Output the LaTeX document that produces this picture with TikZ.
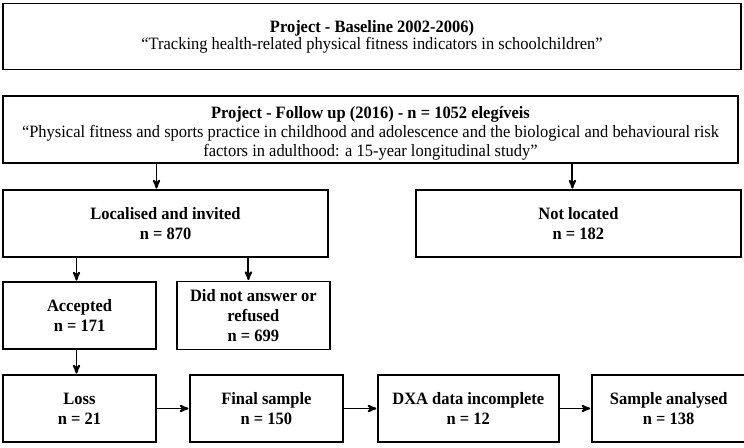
\documentclass[tikz,border=0pt]{standalone}
\usepackage{fontspec}
\setmainfont{Liberation Serif}[FakeStretch=0.95]
\usetikzlibrary{arrows,positioning}
\tikzset{
    %Define standard arrow tip
    >=stealth',
    %Define style for boxes
    flowbox/.style={
           rectangle,
           draw=black, line width=1.9bp,
           inner sep=2bp,
           minimum height=67bp,
           font=\fontsize{17.4}{20}\selectfont,
           align=center},
    % Define arrow style
    pil/.style={
           ->,
           line width=1.9bp,
           shorten >=0.5bp}
}
\begin{document}
\begin{tikzpicture}[x=1bp,y=-1bp,node distance=32bp]
\useasboundingbox (0,0) rectangle (744,448);
\node[flowbox, minimum width=738bp, minimum height=66bp, font=\fontsize{17.4}{17}\selectfont](base) at (372,36.5)
  {\textbf{Project - Baseline 2002-2006)}\\“Tracking health-related physical fitness indicators in schoolchildren”};
\node[flowbox, minimum width=735bp, font=\fontsize{17.4}{19}\selectfont](follow) at (370.5,129.5)
  {\rule{0pt}{20bp}\textbf{Project - Follow up (2016) - n = 1052 elegíveis}\\“Physical fitness and sports practice in childhood and adolescence and the biological and behavioural risk\\factors in adulthood: a 15-year longitudinal study”};
\node[flowbox, minimum width=325bp](loc) at (165.5,223.5) {\textbf{Localised and invited}\\\textbf{n = 870}};
\node[flowbox, minimum width=325bp, right=86bp of loc](notloc) {\textbf{Not located}\\\textbf{n = 182}};
\node[flowbox, minimum width=153bp](acc) at (79.5,315.5) {\textbf{Accepted}\\\textbf{n = 171}};
\node[flowbox, minimum width=153bp, minimum height=68bp, right=19bp of acc](refused) {\textbf{Did not answer or}\\\textbf{refused}\\\textbf{n = 699}};
\node[flowbox, minimum width=153bp](loss) at (79.5,408.5) {\textbf{Loss}\\\textbf{n = 21}};
\node[flowbox, minimum width=153bp, right=of loss](final) {\textbf{Final sample}\\\textbf{n = 150}};
\node[flowbox, minimum width=181bp, right=33bp of final](dxa) {\textbf{DXA data incomplete}\\\textbf{n = 12}};
\node[flowbox, minimum width=154bp, right=31bp of dxa](sample) {\textbf{Sample analysed}\\\textbf{n = 138}};
\draw[pil] ([xshift=-9bp]loc.north |- follow.south) -- ([xshift=-9bp]loc.north);
\draw[pil] ([xshift=-6bp]notloc.north |- follow.south) -- ([xshift=-6bp]notloc.north);
\draw[pil] ([xshift=-3bp]acc.north |- loc.south) -- ([xshift=-3bp]acc.north);
\draw[pil] ([xshift=-5bp]refused.north |- loc.south) -- ([xshift=-5bp]refused.north);
\draw[pil] ([xshift=-3bp]loss.north |- acc.south) -- ([xshift=-3bp]loss.north);
\draw[pil] (loss) -- (final);
\draw[pil] (final) -- (dxa);
\draw[pil] (dxa) -- (sample);
\end{tikzpicture}
\end{document}
